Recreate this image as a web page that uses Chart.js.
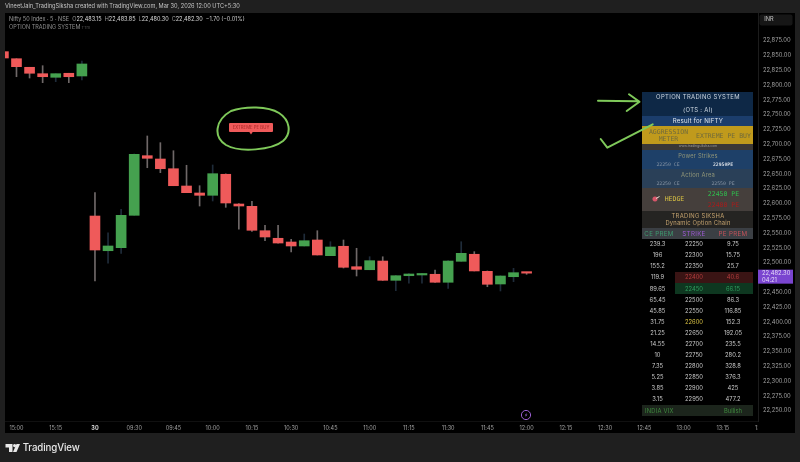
<!DOCTYPE html>
<html>
<head>
<meta charset="utf-8">
<script src="https://cdn.jsdelivr.net/npm/chart.js@4"></script>
<style>
  html, body { margin: 0; padding: 0; background: #1f1f1f; }
  #page { position: relative; width: 800px; height: 462px; overflow: hidden; background: #1f1f1f; font-family: Inter, Roboto, sans-serif; }
  #panel { position: absolute; left: 5px; top: 13px; width: 790px; height: 420px; background: #000; }
  canvas { position: absolute; left: 0; top: 0; }
  .t { position: absolute; white-space: nowrap; line-height: 1; transform: translate(-50%, -50%); }
  .l { position: absolute; white-space: nowrap; line-height: 1; transform: translateY(-50%); }
  .strip { position: absolute; left: 642px; width: 111px; }
  .mono { font-family: "DejaVu Sans Mono", monospace; }
  #overlay { position: absolute; left: 0; top: 0; width: 800px; height: 462px; }
  svg { position: absolute; left: 0; top: 0; }
</style>
</head>
<body>
<div id="page">
  <div id="panel"></div>
  <canvas id="chart" width="800" height="462"></canvas>
  <div id="overlay">
    <div class="l" style="left:5px;top:7px;font-size:5.65px;color:#c4c4c4">VineetJain_TradingSiksha created with TradingView.com, Mar 30, 2026 12:00 UTC+5:30</div>
    <div class="l" style="left:9px;top:20px;font-size:5.5px;color:#9a9a9a">Nifty 50 Index · 5 · NSE &nbsp;O<span style="color:#ddd">22,483.15</span> &nbsp;H<span style="color:#ddd">22,483.85</span> &nbsp;L<span style="color:#ddd">22,480.30</span> &nbsp;C<span style="color:#ddd">22,482.30</span> &nbsp;<span style="color:#ccc">−1.70 (−0.01%)</span></div>
    <div class="l" style="left:9px;top:28px;font-size:5.5px;color:#8c8c8c">OPTION TRADING SYSTEM<span style="font-size:4px;color:#555"> TTm</span></div>
    <div class="t" style="left:776px;top:19.5px;width:33px;height:11px;background:#161616;border-radius:2px"></div>
    <div class="t" style="left:769px;top:19.5px;font-size:5.6px;color:#c8c8c8">INR</div>

    <!-- option trading system table -->
    <div class="strip" style="top:91.7px;height:24px;background:#0e2846"></div>
    <div class="strip" style="top:115.7px;height:10.6px;background:#1b3d6b"></div>
    <div class="strip" style="top:126.3px;height:18px;background:#c09a1c"></div>
    <div class="strip" style="top:144.3px;height:5.7px;background:#3b3836"></div>
    <div class="strip" style="top:150px;height:19px;background:#1e4068"></div>
    <div class="strip" style="top:169px;height:18.7px;background:#2a4058"></div>
    <div class="strip" style="top:187.7px;height:23px;background:#453f3c"></div>
    <div class="strip" style="top:210.7px;height:17px;background:#252422"></div>
    <div class="strip" style="top:227.7px;height:11.3px;background:#3b3f44"></div>

    <div class="t" style="left:698px;top:97px;font-size:5.9px;letter-spacing:.35px;color:#cfd8e2">OPTION TRADING SYSTEM</div>
    <div class="t" style="left:698px;top:110px;font-size:5.9px;letter-spacing:.3px;color:#cfd8e2">(OTS : AI)</div>
    <div class="t" style="left:698px;top:121px;font-size:6.1px;letter-spacing:.2px;color:#dfe6ee">Result for NIFTY</div>
    <div class="t mono" style="left:668.5px;top:132px;font-size:6.5px;color:#6f6a3c">AGGRESSION</div>
    <div class="t mono" style="left:668.5px;top:138.5px;font-size:6.5px;color:#6f6a3c">METER</div>
    <div class="t mono" style="left:723.5px;top:135.5px;font-size:6.5px;color:#6f6a3c">EXTREME PE BUY</div>
    <div class="t" style="left:698px;top:147.2px;font-size:3.4px;color:#9a9a9a">www.tradingsiksha.com</div>
    <div class="t" style="left:698px;top:156px;font-size:5.7px;letter-spacing:.2px;color:#8f9478">Power Strikes</div>
    <div class="t mono" style="left:668px;top:165px;font-size:4.8px;color:#8895a5">22250 CE</div>
    <div class="t mono" style="left:723px;top:165px;font-size:4.8px;font-weight:bold;color:#d8dde4">22950PE</div>
    <div class="t" style="left:698px;top:175px;font-size:5.8px;letter-spacing:.2px;color:#8f9478">Action Area</div>
    <div class="t mono" style="left:668px;top:184px;font-size:4.8px;color:#8895a5">22250 CE</div>
    <div class="t mono" style="left:723px;top:184px;font-size:4.8px;color:#8895a5">22550 PE</div>
    <div class="t mono" style="left:674.5px;top:199px;font-size:6.5px;color:#d8c043">HEDGE</div>
    <div class="t mono" style="left:723.5px;top:193.5px;font-size:6.5px;color:#2fbf4f">22450 PE</div>
    <div class="t mono" style="left:723.5px;top:205px;font-size:6.5px;color:#a81c1c">22400 PE</div>
    <div class="t" style="left:698px;top:216px;font-size:5.8px;letter-spacing:.3px;color:#c4a26e">TRADING SIKSHA</div>
    <div class="t" style="left:698px;top:223px;font-size:5.8px;letter-spacing:.2px;color:#c4a26e">Dynamic Option Chain</div>
    <div class="t" style="left:659px;top:233.5px;font-size:6.2px;letter-spacing:.3px;color:#3f9a70">CE PREM</div>
    <div class="t" style="left:694px;top:233.5px;font-size:6.2px;letter-spacing:.3px;color:#9b59d0">STRIKE</div>
    <div class="t" style="left:733px;top:233.5px;font-size:6.2px;letter-spacing:.3px;color:#c4525a">PE PREM</div>
    <div id="rows"></div>
    <div class="strip" style="top:405.2px;height:11px;background:#1c251c"></div>
    <div class="l" style="left:645px;top:410.7px;font-size:5.8px;letter-spacing:.2px;color:#3f8a3f">INDIA VIX</div>
    <div class="t" style="left:733px;top:410.7px;font-size:5.8px;color:#3f8a3f">Bullish</div>

    <!-- signal label over the 10:30 bar -->
    <div class="strip" style="left:229.3px;top:123.3px;width:43.4px;height:8.4px;background:#ef5a5a;border-radius:1px"></div>
    <div class="t" style="left:251px;top:127.5px;font-size:4.3px;color:#a52424">EXTREME PE BUY</div>

    <div class="l" style="left:22.7px;top:448px;font-size:9.7px;font-weight:500;letter-spacing:-.1px;color:#e8e8e8">TradingView</div>
  </div>
  <svg width="800" height="462" viewBox="0 0 800 462" fill="none">
    <path d="M249 131.5 L253 131.5 L251 134.5 Z" fill="#ef5a5a"/>
    <path d="M231 111 C245 106 268 106 279 113 C290 120 292 133 283 141 C272 150 240 153 226 145 C213 137 215 120 231 111 Z" stroke="#7fc95a" stroke-width="2"/>
    <path d="M598 100.7 L637 101.2 M629 94.3 L639.5 101.7 L626.7 111" stroke="#7fc95a" stroke-width="2" stroke-linecap="round" stroke-linejoin="round"/>
    <path d="M600.7 139 L607.3 147.7 L652.7 124.3" stroke="#7fc95a" stroke-width="2" stroke-linecap="round" stroke-linejoin="round"/>
    <path d="M655 196.4 a2.6 2.6 0 1 0 .01 0 Z" fill="#d8566a"/>
    <path d="M656 198.5 L659.5 196.5" stroke="#e8e0d8" stroke-width="1"/>
    <circle cx="526" cy="415" r="4.6" stroke="#9a5fd0" stroke-width="1"/>
    <path d="M526.8 412.4 L524.8 415.4 L526.2 415.4 L525.2 417.6 L527.4 414.6 L526 414.6 Z" fill="#9a5fd0"/>
    <path d="M5.5 444 H12.5 V452 H9 V447.4 H5.5 Z" fill="#e8e8e8"/>
    <circle cx="14.6" cy="445.6" r="1.6" fill="#e8e8e8"/>
    <path d="M16.5 444 H20 L16.5 452 H13 Z" fill="#e8e8e8"/>
  </svg>
</div>

<script>
// 5 minute candles, oldest first
const opens = [22856.4, 22844.5, 22830, 22819.2, 22813.1, 22819.9, 22815.3,
    22578.8, 22520.2, 22525.3, 22580, 22680.7, 22675.1, 22658.7, 22629.5, 22617.7, 22613.8, 22649.3,
    22599.1, 22595.2, 22554, 22541.2, 22534.9, 22528.2, 22538.3, 22511.8, 22527.7, 22493.2, 22488.1,
    22502.8, 22470.2, 22478, 22479.2, 22480.4, 22466.9, 22502.3, 22514.2, 22485.4, 22464, 22476.3, 22483.15];
const highs = [22856.4, 22844.5, 22830, 22832.7, 22819.2, 22819.9, 22840.6,
    22618.2, 22550.6, 22590.2, 22683.6, 22714, 22702.7, 22689.1, 22664.5, 22630, 22665, 22650,
    22600, 22603.7, 22563.1, 22563.1, 22539.5, 22548.4, 22554, 22535.4, 22538.3, 22524.3, 22510.1,
    22510, 22478.5, 22481.5, 22482, 22487.6, 22503.5, 22535.4, 22518.6, 22486, 22478, 22490.5, 22483.85];
const lows = [22845.7, 22814.1, 22811.9, 22804, 22805.7, 22804, 22808.6,
    22469, 22499, 22515.8, 22580, 22660.4, 22652, 22630, 22618.2, 22595.7, 22604.2, 22593.5,
    22556.4, 22553, 22537.1, 22533, 22518, 22528, 22513, 22511.8, 22491, 22477.5, 22488,
    22470, 22452.7, 22465.2, 22465.2, 22466.5, 22456.7, 22502, 22486, 22459.4, 22452.2, 22467.9, 22480.3];
const closes = [22845.7, 22831, 22819.9, 22814.1, 22819.2, 22814.1, 22835.6,
    22521.4, 22528.2, 22580, 22683, 22676.3, 22658.7, 22630, 22618.2, 22613.8, 22650.3, 22600.8,
    22595.7, 22554.7, 22543.4, 22533.2, 22528.2, 22537.1, 22513, 22526.5, 22492.2, 22488.8, 22503.4,
    22470.2, 22478, 22480.9, 22481.4, 22466.9, 22502.8, 22515.8, 22486, 22463.5, 22477.5, 22483.1, 22482.3];

const xTickSlots = [1, 4, 7, 10, 13, 16, 19, 22, 25, 28, 31, 34, 37, 40, 43, 46, 49, 52, 55, 58];
const xTickLabels = ['15:00', '15:15', '30', '09:30', '09:45', '10:00', '10:15', '10:30', '10:45', '11:00',
    '11:15', '11:30', '11:45', '12:00', '12:15', '12:30', '12:45', '13:00', '13:15', '13:30'];
const yTicks = [22875, 22850, 22825, 22800, 22775, 22750, 22725, 22700, 22675, 22650, 22625, 22600, 22575,
    22550, 22525, 22500, 22475, 22450, 22425, 22400, 22375, 22350, 22325, 22300, 22275, 22250];

// option chain table on the right
const cePrem = ['239.3', '196', '155.2', '119.9', '89.65', '65.45', '45.85', '31.75', '21.25', '14.55', '10', '7.35', '5.25', '3.85', '3.15'];
const strikes = ['22250', '22300', '22350', '22400', '22450', '22500', '22550', '22600', '22650', '22700', '22750', '22800', '22850', '22900', '22950'];
const pePrem = ['9.75', '15.75', '25.7', '40.6', '66.15', '86.3', '116.85', '152.3', '192.05', '235.5', '280.2', '328.8', '376.3', '425', '477.2'];

const UP = '#45a14f';
const DOWN = '#ef5a5a';
const WICK_UP = '#1f2c3a';
const WICK_DOWN = '#6f6868';
const AXIS_TEXT = '#a0a0a0';
const FONT = 'Inter, Roboto, sans-serif';

const isUp = i => closes[i] >= opens[i];

function buildRows() {
    const rows = document.getElementById('rows');
    strikes.forEach((strike, i) => {
        const y = 244.4 + i * 11.03;
        let strikeColor = '#c8c8c8';
        let peColor = '#c8c8c8';
        if (strike === '22400') {
            strikeColor = peColor = '#b33c3c';
            rows.innerHTML += `<div class="strip" style="left:675px;width:78px;top:${y - 5.6}px;height:11.3px;background:#3a1414"></div>`;
        }
        if (strike === '22450') {
            strikeColor = peColor = '#2f9f5e';
            rows.innerHTML += `<div class="strip" style="left:675px;width:78px;top:${y - 5.6}px;height:11.3px;background:#0e3720"></div>`;
        }
        if (strike === '22600') {
            strikeColor = '#d8c043';
        }
        rows.innerHTML += `<div class="t" style="left:657.5px;top:${y}px;font-size:5.8px;color:#c8c8c8">${cePrem[i]}</div>`
            + `<div class="t" style="left:694px;top:${y}px;font-size:5.8px;color:${strikeColor}">${strike}</div>`
            + `<div class="t" style="left:733px;top:${y}px;font-size:5.8px;color:${peColor}">${pePrem[i]}</div>`;
    });
}

const priceTag = {
    id: 'priceTag',
    afterDraw(chart) {
        const ctx = chart.ctx;
        const last = closes[closes.length - 1];
        const y = chart.scales.y.getPixelForValue(last);
        ctx.save();
        // the 13:30 label runs under the price scale
        ctx.fillStyle = '#000';
        ctx.fillRect(chart.chartArea.right, chart.chartArea.bottom + 1, 12, 11);
        ctx.fillStyle = '#7a45d0';
        ctx.fillRect(chart.chartArea.right, y - 3.5, 35, 14);
        ctx.fillStyle = '#e4d8f8';
        ctx.font = '5.8px ' + FONT;
        ctx.textBaseline = 'middle';
        ctx.fillText(last.toLocaleString('en-US', { minimumFractionDigits: 2 }), chart.chartArea.right + 4, y);
        ctx.fillText('04:21', chart.chartArea.right + 4, y + 7);
        ctx.restore();
    }
};

buildRows();

new Chart(document.getElementById('chart').getContext('2d'), {
    type: 'bar',
    data: {
        datasets: [
            {
                label: 'Body',
                order: 1,
                grouped: false,
                barThickness: 10,
                minBarLength: 1.5,
                data: opens.map((o, i) => ({ x: i, y: [o, closes[i]] })),
                backgroundColor: opens.map((o, i) => isUp(i) ? UP : DOWN)
            },
            {
                label: 'Wick',
                order: 2,
                grouped: false,
                barThickness: 1,
                data: highs.map((h, i) => ({ x: i, y: [lows[i], h] })),
                backgroundColor: highs.map((h, i) => isUp(i) ? WICK_UP : WICK_DOWN)
            }
        ]
    },
    options: {
        responsive: false,
        animation: false,
        layout: { padding: { left: 5, right: 5, top: 13, bottom: 29 } },
        plugins: { legend: { display: false }, tooltip: { enabled: false } },
        scales: {
            x: {
                type: 'linear',
                offset: false,
                min: 0.122,
                max: 57.69,
                afterBuildTicks: s => { s.ticks = xTickSlots.map(v => ({ value: v })); },
                afterFit: s => { s.height = 12; s.paddingLeft = 0; s.paddingRight = 0; },
                grid: { display: false, drawTicks: false },
                border: { color: '#101010' },
                ticks: {
                    autoSkip: false,
                    maxRotation: 0,
                    padding: 4,
                    color: ctx => ctx.index === 2 ? '#d8d8d8' : AXIS_TEXT,
                    font: ctx => ({ family: FONT, size: 5.5, weight: ctx.index === 2 ? 'bold' : 'normal' }),
                    callback: (v, i) => xTickLabels[i]
                }
            },
            y: {
                position: 'right',
                min: 22232.6,
                max: 22921.7,
                afterBuildTicks: s => { s.ticks = yTicks.map(v => ({ value: v })); },
                afterFit: s => { s.width = 37; },
                grid: { display: false, drawTicks: false },
                border: { color: '#1c1c1c' },
                ticks: {
                    padding: 5,
                    color: AXIS_TEXT,
                    font: { family: FONT, size: 5.8 },
                    callback: v => v.toLocaleString('en-US', { minimumFractionDigits: 2 })
                }
            }
        }
    },
    plugins: [priceTag]
});
</script>
</body>
</html>
